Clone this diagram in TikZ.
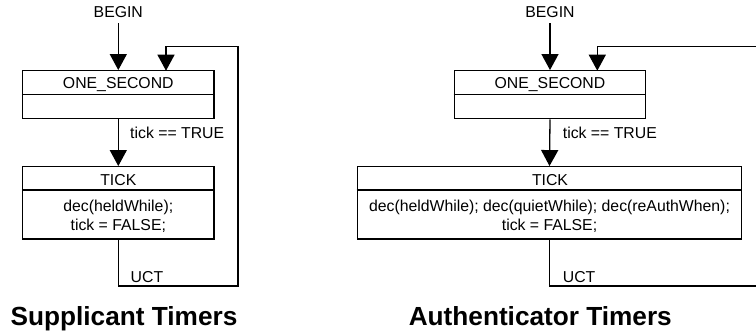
\documentclass[tikz,border=0pt]{standalone}
\usepackage{fontspec}
\setmainfont{Liberation Sans}
\usetikzlibrary{arrows.meta}
\begin{document}
\begin{tikzpicture}[x=1pt,y=-1pt,
  lw/.style={line width=1.3pt},
  box/.style={draw,lw,rectangle,inner sep=0pt},
  txt/.style={inner sep=0pt,anchor=base,font=\fontsize{15.8}{18.5}\selectfont},
  lbl/.style={inner sep=0pt,anchor=base west,font=\fontsize{15.8}{18.5}\selectfont},
  ttl/.style={inner sep=0pt,anchor=base,font=\fontsize{26.2}{30}\selectfont\bfseries},
  arr/.style={lw,-{Triangle[width=17pt,length=16pt]}}]
\useasboundingbox (0,0) rectangle (756,333);
% ---------- Supplicant ----------
\node[txt] (begin1) at (118.3,17.3) {BEGIN};
\node[box,minimum width=191.6pt,minimum height=48pt] (os1) at (118.3,94.7) {};
\draw[lw] (os1.west) -- (os1.east);
\node[txt] (os1t) at (118.3,88.3) {ONE\_SECOND};
\node[box,minimum width=191.6pt,minimum height=72.3pt] (tick1) at (118.3,202.85) {};
\draw[lw] ([yshift=-24pt]tick1.north west) -- ([yshift=-24pt]tick1.north east);
\node[txt] (tick1t) at (118.3,185) {TICK};
\node[txt] (tick1a) at (118.3,211.5) {dec(heldWhile);};
\node[txt] (tick1b) at (118.3,230) {tick = FALSE;};
\node[lbl] (true1) at (130,138.3) {tick == TRUE};
\node[lbl] (uct1) at (130.5,282) {UCT};
\node[ttl] (title1) at (124,325) {Supplicant Timers};
\coordinate (b1) at (118.3,23);
\coordinate (c1) at (238,286);
\coordinate (in1top) at (166,46.7);
\coordinate (in1) at (166,70.7);
\draw[arr] (b1) -- (os1.north);
\draw[arr] (os1.south) -- (tick1.north);
\draw[arr] (tick1.south) |- (c1) |- (in1top) -- (in1);
% ---------- Authenticator ----------
\node[txt] (begin2) at (550,17.3) {BEGIN};
\node[box,minimum width=191.4pt,minimum height=48pt] (os2) at (550,94.7) {};
\draw[lw] (os2.west) -- (os2.east);
\node[txt] (os2t) at (550,88.3) {ONE\_SECOND};
\node[box,minimum width=384.4pt,minimum height=72.3pt] (tick2) at (549.5,202.85) {};
\draw[lw] ([yshift=-24pt]tick2.north west) -- ([yshift=-24pt]tick2.north east);
\node[txt] (tick2t) at (550,185) {TICK};
\node[txt] (tick2a) at (549.5,211.5) {dec(heldWhile); dec(quietWhile); dec(reAuthWhen);};
\node[txt] (tick2b) at (549.5,230) {tick = FALSE;};
\node[lbl] (true2) at (562.7,138.3) {tick == TRUE};
\node[lbl] (uct2) at (562.7,282) {UCT};
\node[ttl] (title2) at (540.3,325) {Authenticator Timers};
\coordinate (b2) at (550,23);
\coordinate (c2) at (762,286);
\coordinate (in2top) at (597.3,46.7);
\coordinate (in2) at (597.3,70.7);
\draw[arr] (b2) -- (os2.north);
\draw[arr] (os2.south) -- (tick2.north);
\draw[arr] (tick2.south) |- (c2) |- (in2top) -- (in2);
\end{tikzpicture}
\end{document}
